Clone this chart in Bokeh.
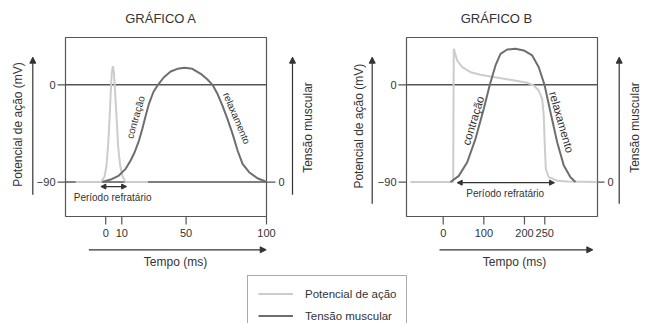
from bokeh.plotting import figure
from bokeh.models import Range1d, Arrow, NormalHead, Label, Legend, LegendItem
from bokeh.core.properties import value
from bokeh.embed import file_html
from bokeh.resources import INLINE

# ---------------- data ----------------
TITLE_A = "GRÁFICO A"
TITLE_B = "GRÁFICO B"
Y_LABEL = "Potencial de ação (mV)"
Y2_LABEL = "Tensão muscular"
X_LABEL = "Tempo (ms)"
REFR_LABEL = "Período refratário"
CONTR_LABEL = "contração"
RELAX_LABEL = "relaxamento"
LEG_AP = "Potencial de ação"
LEG_TEN = "Tensão muscular"

Y_TICKS = [-90, 0]
Y_TICK_LABELS = ["\u221290", "0"]
TENSION_TICKS = [0]
TENSION_TICK_LABELS = ["0"]
REST_MV = -90            # tension 0 is drawn at the resting-potential level

A_X_TICKS = [0, 10, 50, 100]
A_X_TICK_LABELS = ["0", "10", "50", "100"]
B_X_TICKS = [0, 100, 200, 250]
B_X_TICK_LABELS = ["0", "100", "200", "250"]

# Gráfico A - potencial de ação (ms, mV)
A_AP_T = [-18.7, -2.8, -0.7, 0.5, 1.5, 2.4, 3.2, 3.8, 4.5, 5.1, 5.8, 6.8,
          7.7, 9.0, 10.5, 12.4, 26.3]
A_AP_V = [-90, -90, -84.9, -74.7, -56.2, -31.2, -5.3, 11.4, 17.2, 11.4, -5.3,
          -31.2, -56.2, -74.7, -84.9, -90, -90]
# Gráfico A - tensão muscular (ms, unidades arbitrárias)
A_TEN_T = [-2.1, 3.1, 8.2, 12.4, 15.5, 18.0, 20.7, 22.8, 24.9, 26.9, 29.6,
           32.5, 36.2, 40.4, 44.6, 49.1, 53.9, 59.1, 63.3, 66.4, 69.5, 72.6,
           75.7, 78.9, 82.0, 85.1, 89.2, 94.4, 100]
A_TEN_V = [0, 2.3, 6.0, 12.2, 19.9, 27.6, 38.4, 49.3, 61.6, 72.4, 83.1, 90,
           97.0, 102.3, 104.8, 105.7, 104.8, 100.2, 94.9, 90, 81.7, 70.8,
           58.5, 44.6, 29.2, 16.9, 9.1, 3.5, 0]
A_REFR = [-3, 13]

# Gráfico B - potencial de ação (ms, mV)
B_AP_T = [-80.5, 24.5, 26, 34.4, 46.8, 67.2, 91.8, 116.4, 165.6, 206.7,
          222.9, 235.2, 243.6, 247.5, 250, 252.5, 259.8, 280.5, 305, 379]
B_AP_V = [-90, -90, 33.4, 22.5, 16.3, 11.7, 9.3, 7.7, 4.6, 1.9, -0.6, -5.3,
          -13, -28.5, -56.3, -77.9, -85.6, -88.7, -89.6, -90]
# Gráfico B - tensão muscular (ms, unidades arbitrárias)
B_TEN_T = [18, 38.4, 59.1, 79.5, 99.9, 114.7, 128.7, 141, 157.5, 177.9,
           198.3, 219, 235.2, 249.3, 264, 280.5, 296.8, 313.2, 325.5]
B_TEN_V = [0, 5.7, 18.3, 40, 67.8, 90, 107.9, 118.7, 122.7, 123.4, 121.8,
           117.2, 106.3, 90, 64.6, 36.8, 15.2, 4.4, 0]
B_REFR = [34.4, 273.9]

# ---------------- layout / style ----------------
FONT = "Liberation Sans"
TXT = "#333333"
LINE = "#555555"
ARW = "#333333"
C_AP = "#cccccc"
C_TEN = "#6e6e6e"

W, H = 648, 323
A_BOX_PX = (65, 266, 37, 216)      # left, right, top, bottom (pixels)
B_BOX_PX = (406, 597, 37, 216)
A_XLIM = (-25, 100)                # data extent of each box
B_XLIM = (-90.3, 379.7)
Y_LIM = (-121.9, 43.8)


def lin(p0, p1, v0, v1):
    return lambda px: v0 + (px - p0) * (v1 - v0) / (p1 - p0)


ax_px = lin(A_BOX_PX[0], A_BOX_PX[1], *A_XLIM)
bx_px = lin(B_BOX_PX[0], B_BOX_PX[1], *B_XLIM)
y_px = lin(A_BOX_PX[3], A_BOX_PX[2], *Y_LIM)

p = figure(width=W, height=H, x_range=Range1d(ax_px(0), ax_px(W)),
           y_range=Range1d(y_px(H), y_px(0)), output_backend="svg",
           toolbar_location=None, title=None, min_border=0,
           x_axis_location=None, y_axis_location=None)
p.extra_x_ranges = {"b": Range1d(bx_px(0), bx_px(W))}
p.extra_y_ranges = {"ten": Range1d(y_px(H) - REST_MV, y_px(0) - REST_MV)}
p.xgrid.visible = False
p.ygrid.visible = False
p.outline_line_color = None
p.background_fill_color = "white"
p.border_fill_color = "white"


def txt(rn, x, y, s, size, align="center", base="middle", angle=0, yr="default"):
    p.add_layout(Label(x=x, y=y, text=s, x_range_name=rn, y_range_name=yr,
                       angle=angle, angle_units="deg", text_align=align,
                       text_baseline=base, text_font=FONT,
                       text_font_size=size, text_color=TXT))


def draw_chart(rn, xf, box, xlim, xticks, xtick_labels, title, refr,
               ap_t, ap_v, ten_t, ten_v, cfg):
    l, r, t, b = box
    kw = dict(x_range_name=rn)
    # frame box
    p.quad(left=[xlim[0]], right=[xlim[1]], bottom=[Y_LIM[0]], top=[Y_LIM[1]],
           fill_color=None, line_color=LINE, line_width=1.2, **kw)
    # reference lines inside the box
    levels = [0] + ([REST_MV] if cfg["rest_line"] else [])
    p.segment(x0=[xlim[0]] * len(levels), x1=[xlim[1]] * len(levels),
              y0=levels, y1=levels, line_color=LINE, line_width=1.5, **kw)
    # left ticks + labels
    n = len(Y_TICKS)
    p.segment(x0=[xf(l - 8)] * n, x1=[xlim[0]] * n, y0=Y_TICKS, y1=Y_TICKS,
              line_color=LINE, line_width=1.2, **kw)
    p.text(x=[xf(l - 10)] * n, y=Y_TICKS, text=Y_TICK_LABELS,
           text_align="right", text_baseline="middle",
           text_font=value(FONT), text_font_size="11px", text_color=TXT, **kw)
    # right tension tick + label
    m = len(TENSION_TICKS)
    p.segment(x0=[xlim[1]] * m, x1=[xf(r + cfg["rt_out"])] * m,
              y0=TENSION_TICKS, y1=TENSION_TICKS, line_color=LINE,
              line_width=1.2, y_range_name="ten", **kw)
    p.text(x=[xf(r + cfg["rt_out"] + 3)] * m, y=TENSION_TICKS,
           text=TENSION_TICK_LABELS, text_align="left",
           text_baseline="middle", text_font=value(FONT),
           text_font_size="11px", text_color=TXT, y_range_name="ten", **kw)
    # bottom ticks + labels
    k = len(xticks)
    p.segment(x0=xticks, x1=xticks, y0=[Y_LIM[0]] * k, y1=[y_px(b + 8)] * k,
              line_color=LINE, line_width=1.2, **kw)
    p.text(x=xticks, y=[y_px(b + 12)] * k, text=xtick_labels,
           text_align="center", text_baseline="top", text_font=value(FONT),
           text_font_size="11px", text_color=TXT, **kw)

    # curves
    r_ap = p.line(ap_t, ap_v, line_color=C_AP, line_width=2, **kw)
    r_ten = p.line(ten_t, ten_v, line_color=C_TEN, line_width=2,
                   y_range_name="ten", **kw)

    # refractory period
    hd = dict(size=5, fill_color=ARW, line_color=ARW)
    p.add_layout(Arrow(x_start=refr[0], x_end=refr[1], y_start=cfg["refr_y"],
                       y_end=cfg["refr_y"], line_color=ARW, line_width=1.2,
                       start=NormalHead(**hd), end=NormalHead(**hd), **kw))
    txt(rn, cfg["refr_tx"], cfg["refr_ty"], REFR_LABEL, "10px")
    txt(rn, cfg["con"][0], cfg["con"][1], CONTR_LABEL, cfg["fs"], angle=cfg["con"][2])
    txt(rn, cfg["rel"][0], cfg["rel"][1], RELAX_LABEL, cfg["fs"], angle=cfg["rel"][2])

    # axis arrows and titles (pixel layout -> data)
    d = cfg["deco"]
    head = dict(size=6, fill_color=ARW, line_color=ARW)
    for (xa, y0, y1) in (d["left_arrow"], d["right_arrow"]):
        p.add_layout(Arrow(x_start=xf(xa), x_end=xf(xa), y_start=y_px(y0),
                           y_end=y_px(y1), line_color=ARW, line_width=1.2,
                           end=NormalHead(**head), **kw))
    x0, x1, yy = d["time_arrow"]
    p.add_layout(Arrow(x_start=xf(x0), x_end=xf(x1), y_start=y_px(yy),
                       y_end=y_px(yy), line_color=ARW, line_width=1.2,
                       end=NormalHead(**head), **kw))
    txt(rn, xf(d["title"][0]), y_px(d["title"][1]), title, "13px")
    txt(rn, xf(d["ylab"][0]), y_px(d["ylab"][1]), Y_LABEL, "12px", angle=90)
    txt(rn, xf(d["y2lab"][0]), y_px(d["y2lab"][1]), Y2_LABEL, "12px", angle=90)
    txt(rn, xf(d["xlab"][0]), y_px(d["xlab"][1]), X_LABEL, "12px")
    return r_ap, r_ten


cfg_a = dict(rest_line=True, rt_out=9, fs="10px",
             refr_y=-94.2, refr_tx=4.3, refr_ty=-104.4,
             con=(18.6, -30, 74), rel=(81.5, -30.9, -67),
             deco=dict(left_arrow=(32.3, 194.3, 56.7),
                       right_arrow=(292, 194.3, 56.7),
                       time_arrow=(88.3, 265.7, 249.3),
                       title=(160.5, 18), ylab=(17.5, 124),
                       y2lab=(307, 127), xlab=(175, 261)))
cfg_b = dict(rest_line=False, rt_out=7, fs="11.5px",
             refr_y=-90.6, refr_tx=152.6, refr_ty=-101,
             con=(73.8, -33.1, 73), rel=(291.1, -34.6, -74),
             deco=dict(left_arrow=(371.7, 203.3, 56.7),
                       right_arrow=(618.7, 203.3, 56.7),
                       time_arrow=(439, 592.3, 249.3),
                       title=(496, 18), ylab=(358, 125.7),
                       y2lab=(634, 127), xlab=(514, 261)))

ra_ap, ra_ten = draw_chart("default", ax_px, A_BOX_PX, A_XLIM, A_X_TICKS,
                           A_X_TICK_LABELS, TITLE_A, A_REFR, A_AP_T, A_AP_V,
                           A_TEN_T, A_TEN_V, cfg_a)
draw_chart("b", bx_px, B_BOX_PX, B_XLIM, B_X_TICKS, B_X_TICK_LABELS, TITLE_B,
           B_REFR, B_AP_T, B_AP_V, B_TEN_T, B_TEN_V, cfg_b)

leg = Legend(items=[LegendItem(label=LEG_AP, renderers=[ra_ap]),
                    LegendItem(label=LEG_TEN, renderers=[ra_ten])],
             location=(247, -11), padding=10, spacing=7,
             glyph_width=35, glyph_height=15, label_height=15,
             label_standoff=12, label_text_font=FONT,
             label_text_font_size="11.5px", label_text_color=TXT,
             border_line_color=LINE, border_line_width=1,
             background_fill_color="white", background_fill_alpha=1)
p.add_layout(leg)

open("out.html", "w").write(file_html(p, INLINE))
